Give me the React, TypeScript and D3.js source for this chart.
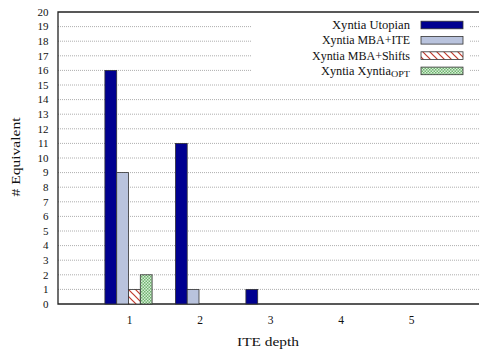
import React, { useEffect, useRef } from "react";
import * as d3 from "d3";

const depths = [1, 2, 3, 4, 5];
const seriesNames = ["Xyntia Utopian", "Xyntia MBA+ITE", "Xyntia MBA+Shifts", "Xyntia Xyntia"];
const utopian = [16, 11, 1, 0, 0];
const mbaIte = [9, 1, 0, 0, 0];
const mbaShifts = [1, 0, 0, 0, 0];
const xyntiaOpt = [2, 0, 0, 0, 0];
const yTicks = d3.range(0, 21);

const fills = ["#000090", "#b9c3dd", "url(#hatch)", "url(#checks)"];
const font = "'Liberation Serif', 'Times New Roman', serif";
// the reference face (Libertine) runs wider than Times, so stretch the long labels
const legendWidths = [78, 88, 98, 89];

export default function App() {
  const ref = useRef<SVGSVGElement>(null);

  useEffect(() => {
    const svg = d3.select(ref.current);
    svg.selectAll("*").remove();

    const left = 58, top = 12, bottom = 304, right = 479;

    const defs = svg.append("defs");
    const hatch = defs.append("pattern").attr("id", "hatch")
      .attr("patternUnits", "userSpaceOnUse").attr("width", 7).attr("height", 7);
    hatch.append("rect").attr("width", 7).attr("height", 7).attr("fill", "#fff");
    hatch.append("path").attr("d", "M-1,-1 L8,8 M-4.5,2.5 L2.5,9.5 M2.5,-4.5 L9.5,2.5")
      .attr("stroke", "#c0392b").attr("stroke-width", 1.2);
    const checks = defs.append("pattern").attr("id", "checks")
      .attr("patternUnits", "userSpaceOnUse").attr("width", 3).attr("height", 3);
    checks.append("rect").attr("width", 3).attr("height", 3).attr("fill", "#d8eed8");
    checks.append("rect").attr("width", 1.5).attr("height", 1.5).attr("fill", "#6fb56f");
    checks.append("rect").attr("x", 1.5).attr("y", 1.5).attr("width", 1.5).attr("height", 1.5).attr("fill", "#6fb56f");

    const x = d3.scaleLinear().domain([0, 6]).range([left, left + 423]);
    const y = d3.scaleLinear().domain([0, 20]).range([bottom, top]);
    const bw = 11.8;

    // gridlines
    svg.append("g").selectAll("line").data(yTicks.slice(1, 20)).join("line")
      .attr("x1", left).attr("x2", right)
      .attr("y1", d => y(d)).attr("y2", d => y(d))
      .attr("stroke", "#999").attr("stroke-width", 0.8).attr("stroke-dasharray", "1,1");

    // legend background covers grid
    svg.append("rect").attr("x", 252).attr("y", 18).attr("width", 218).attr("height", 60).attr("fill", "#fff");

    // frame: top, left, bottom
    svg.append("path").attr("d", `M${right},${top} H${left} V${bottom} H${right}`)
      .attr("fill", "none").attr("stroke", "#222").attr("stroke-width", 1.3);

    const txt = svg.append("g").attr("font-family", font).attr("fill", "#111");

    // y ticks
    txt.append("g").selectAll("text").data(yTicks).join("text")
      .attr("x", 48.5).attr("y", d => y(d)).attr("dy", "0.35em")
      .attr("text-anchor", "end").attr("font-size", 11)
      .text(d => d);

    // bars
    const series = [utopian, mbaIte, mbaShifts, xyntiaOpt];
    series.forEach((vals, si) => {
      svg.append("g").selectAll("rect").data(vals.map((v, i) => ({ v, d: depths[i] })).filter(o => o.v > 0)).join("rect")
        .attr("x", o => x(o.d) - 2 * bw + si * bw)
        .attr("y", o => y(o.v))
        .attr("width", bw)
        .attr("height", o => bottom - y(o.v))
        .attr("fill", fills[si])
        .attr("stroke", "#333").attr("stroke-width", 0.8);
    });

    // x ticks
    txt.append("g").selectAll("text").data(depths).join("text")
      .attr("x", d => x(d) + 1).attr("y", 323.5)
      .attr("text-anchor", "middle").attr("font-size", 11.5)
      .text(d => d);

    txt.append("text").attr("x", 237).attr("y", 346)
      .attr("font-size", 13.5).attr("textLength", 62).attr("lengthAdjust", "spacingAndGlyphs")
      .text("ITE depth");
    txt.append("text").attr("transform", "translate(20,196.5) rotate(-90)")
      .attr("font-size", 13.5).attr("textLength", 79).attr("lengthAdjust", "spacingAndGlyphs")
      .text("# Equivalent");

    // legend
    const rows = [25, 40.3, 55.6, 70.9];
    seriesNames.forEach((name, i) => {
      const t = txt.append("text").attr("x", 410 - legendWidths[i]).attr("y", rows[i]).attr("dy", "0.35em")
        .attr("font-size", 11.5);
      if (i === 3) {
        t.append("tspan").attr("textLength", 70).attr("lengthAdjust", "spacingAndGlyphs").text(name);
        t.append("tspan").attr("font-size", 8).attr("dy", 2).attr("textLength", 19)
          .attr("lengthAdjust", "spacingAndGlyphs").text("OPT");
      } else {
        t.attr("textLength", legendWidths[i]).attr("lengthAdjust", "spacingAndGlyphs").text(name);
      }
      svg.append("rect").attr("x", 421).attr("y", rows[i] - 3.8).attr("width", 42).attr("height", 7.6)
        .attr("fill", fills[i]).attr("stroke", "#333").attr("stroke-width", 0.8);
    });
  }, []);

  return (
    <svg ref={ref} width={479} height={350}
      style={{ position: "absolute", left: 0, top: 0 }} />
  );
}
